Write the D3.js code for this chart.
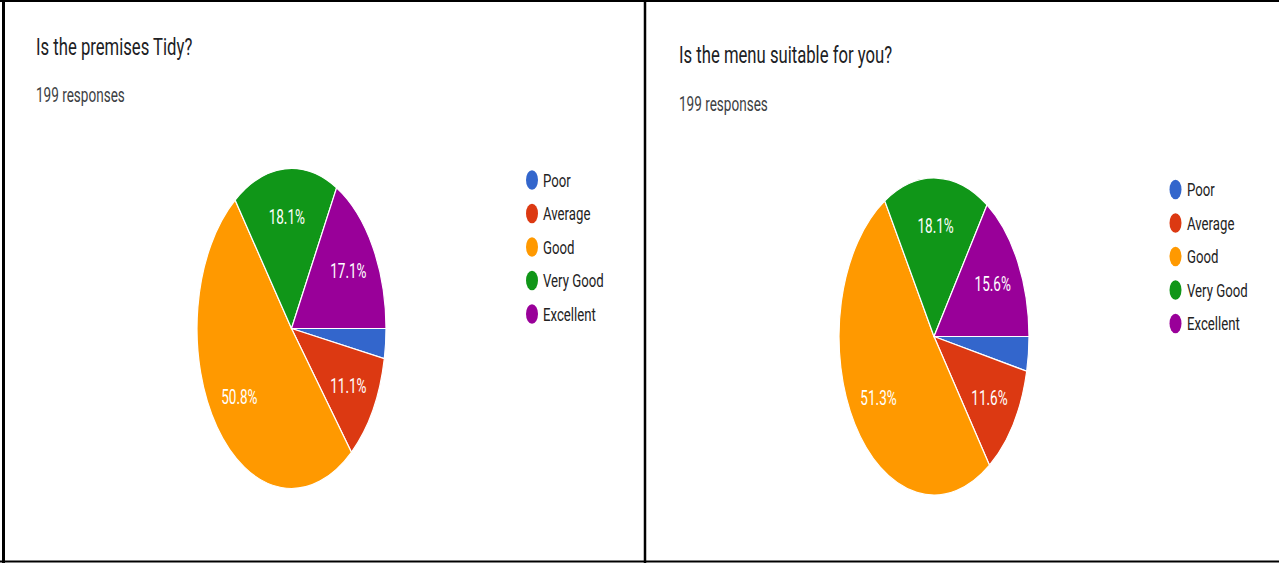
<!DOCTYPE html>
<html>
<head>
<meta charset="utf-8">
<script src="https://cdn.jsdelivr.net/npm/d3@7"></script>
<style>
  html, body { margin: 0; padding: 0; background: #fff; }
  svg { display: block; font-family: Roboto, "Noto Sans", sans-serif; }
</style>
</head>
<body>
<div id="chart"></div>
<script>
// answers and colours (google forms palette)
var categories = ["Poor", "Average", "Good", "Very Good", "Excellent"];
var colors = ["#3366cc", "#dc3912", "#ff9900", "#109618", "#990099"];

// response counts (199 responses each)
var tidyCounts = [6, 22, 101, 36, 34];
var menuCounts = [7, 23, 102, 36, 31];

var titles = ["Is the premises Tidy?", "Is the menu suitable for you?"];
var subtitles = ["199 responses", "199 responses"];

// layout of the two panels (the screenshot is squashed sideways)
var panels = [
    { counts: tidyCounts, title: titles[0], sub: subtitles[0],
      titleY: 55, subY: 102, textX: 36,
      cx: 291.5, cy: 328.5, rx: 94.5, ry: 160,
      legX: 532, legTextX: 543, legY: 180 },
    { counts: menuCounts, title: titles[1], sub: subtitles[1],
      titleY: 63, subY: 111, textX: 679,
      cx: 934, cy: 336.5, rx: 95, ry: 158.5,
      legX: 1175.5, legTextX: 1187, legY: 189.5 }
];

var width = 1279, height = 563;
var sx = 0.695;         // horizontal squash of the text
var legStep = 33.5;

var svg = d3.select("#chart").append("svg")
    .attr("width", width)
    .attr("height", height);

svg.append("rect").attr("width", width).attr("height", height).attr("fill", "#fff");

var pie = d3.pie().sort(null)
    .startAngle(Math.PI / 2)
    .endAngle(Math.PI / 2 + 2 * Math.PI);
var pct = d3.format(".1%");

panels.forEach(function (p) {
    var total = d3.sum(p.counts);
    var arcs = pie(p.counts);
    var arc = d3.arc().innerRadius(0).outerRadius(p.ry);

    // title + responses
    svg.append("text")
        .attr("transform", "translate(" + p.textX + "," + p.titleY + ") scale(" + sx + ",1)")
        .attr("font-size", 24)
        .attr("fill", "#202124")
        .text(p.title);
    svg.append("text")
        .attr("transform", "translate(" + p.textX + "," + p.subY + ") scale(" + sx + ",1)")
        .attr("font-size", 19.5)
        .attr("fill", "#3c4043")
        .text(p.sub);

    // slices
    var g = svg.append("g")
        .attr("transform", "translate(" + p.cx + "," + p.cy + ") scale(" + (p.rx / p.ry) + ",1)");
    g.selectAll("path")
        .data(arcs)
        .enter().append("path")
        .attr("d", arc)
        .attr("fill", function (d, i) { return colors[i]; })
        .attr("stroke", "#fff")
        .attr("stroke-width", 1.2)
        .attr("vector-effect", "non-scaling-stroke");

    // percentage labels, skipped for tiny slices
    arcs.forEach(function (d) {
        if (d.value / total < 0.05) return;
        var a = (d.startAngle + d.endAngle) / 2;
        var x = p.cx + Math.sin(a) * 0.7 * p.rx;
        var y = p.cy - Math.cos(a) * 0.7 * p.ry;
        svg.append("text")
            .attr("transform", "translate(" + x + "," + y + ") scale(" + sx + ",1)")
            .attr("text-anchor", "middle")
            .attr("dy", "0.36em")
            .attr("font-size", 19.5)
            .attr("fill", "#fff")
            .text(pct(d.value / total));
    });

    // legend
    categories.forEach(function (c, i) {
        var y = p.legY + i * legStep;
        svg.append("ellipse")
            .attr("cx", p.legX).attr("cy", y)
            .attr("rx", 6).attr("ry", 9.8)
            .attr("fill", colors[i]);
        svg.append("text")
            .attr("transform", "translate(" + p.legTextX + "," + y + ") scale(" + sx + ",1)")
            .attr("dy", "0.36em")
            .attr("font-size", 19)
            .attr("fill", "#222")
            .text(c);
    });
});

// frame lines of the screenshot
svg.append("line").attr("x1", 0).attr("x2", width).attr("y1", 1).attr("y2", 1)
    .attr("stroke", "#000").attr("stroke-width", 2);
svg.append("line").attr("x1", 0).attr("x2", width).attr("y1", 561.5).attr("y2", 561.5)
    .attr("stroke", "#000").attr("stroke-width", 2);
svg.append("line").attr("x1", 3.5).attr("x2", 3.5).attr("y1", 0).attr("y2", height)
    .attr("stroke", "#000").attr("stroke-width", 3);
svg.append("line").attr("x1", 645).attr("x2", 645).attr("y1", 0).attr("y2", height)
    .attr("stroke", "#000").attr("stroke-width", 2.5);
</script>
</body>
</html>
